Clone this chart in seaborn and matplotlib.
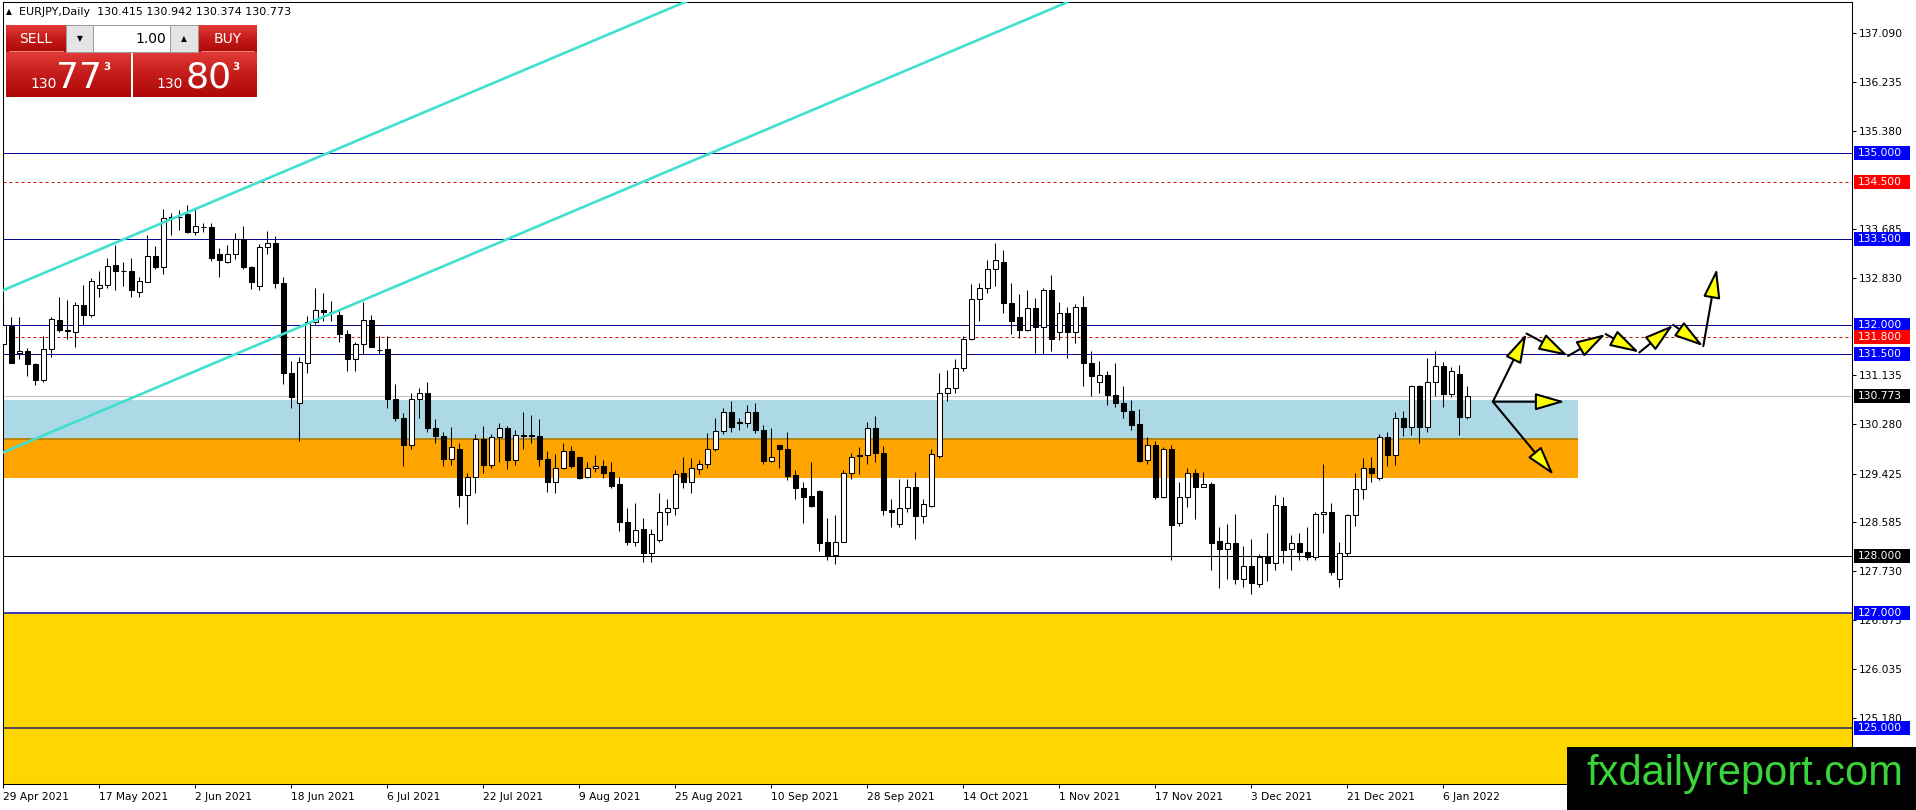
import numpy as np
import matplotlib
matplotlib.use('Agg')
import matplotlib.pyplot as plt
import matplotlib.transforms as mtransforms
from matplotlib.patches import Rectangle
from matplotlib.colors import LinearSegmentedColormap
import seaborn as sns

# ---------------- data (EURJPY daily) ----------------
opens = [
    131.68, 131.99, 131.52, 131.55, 131.33, 131.06, 131.59, 132.09, 131.92, 131.89,
    132.35, 132.19, 132.65, 132.70, 133.05, 132.95, 132.95, 132.59, 132.76, 133.21,
    133.02, 133.88, 133.88, 133.94, 133.63, 133.72, 133.71, 133.24, 133.11, 133.24,
    133.50, 133.01, 132.69, 133.36, 133.44, 132.73, 131.17, 130.66, 131.34, 132.06,
    132.27, 132.24, 132.18, 131.85, 131.41, 131.67, 132.09, 131.58, 131.59, 130.73,
    130.40, 129.92, 130.72, 130.83, 130.21, 130.08, 129.67, 129.86, 129.06, 129.36,
    130.02, 129.57, 130.06, 130.21, 129.66, 130.09, 130.09, 130.08, 129.67, 129.28,
    129.52, 129.81, 129.71, 129.36, 129.52, 129.56, 129.46, 129.24, 128.59, 128.24,
    128.46, 128.04, 128.27, 128.76, 128.82, 129.43, 129.28, 129.50, 129.59, 129.85,
    130.17, 130.49, 130.32, 130.31, 130.50, 130.19, 129.65, 129.92, 129.85, 129.40,
    129.17, 129.04, 129.12, 128.23, 128.01, 128.24, 129.43, 129.73, 129.75, 130.21,
    129.78, 128.80, 128.55, 128.82, 129.19, 128.68, 128.86, 129.73, 130.82, 130.91,
    131.26, 131.76, 132.46, 132.66, 132.99, 133.11, 132.39, 132.14, 131.93, 132.30,
    131.98, 132.62, 131.88, 132.22, 131.89, 132.32, 131.35, 131.01, 131.14, 130.79,
    130.66, 130.52, 130.29, 129.66, 129.92, 129.01, 129.86, 128.56, 129.01, 129.43,
    129.20, 129.24, 128.26, 128.11, 128.22, 127.59, 127.81, 127.51, 127.98, 127.87,
    128.86, 128.11, 128.22, 128.07, 127.98, 128.72, 128.76, 127.60, 128.05, 128.71,
    129.15, 129.52, 129.34, 130.06, 129.75, 130.40, 130.24, 130.95, 130.23, 131.01,
    131.30, 130.81, 131.16, 130.415]

highs = [
    132.33, 132.15, 132.14, 131.60, 131.35, 131.82, 132.15, 132.49, 132.44, 132.41,
    132.70, 132.82, 132.94, 133.17, 133.40, 133.11, 133.18, 132.85, 133.57, 133.38,
    134.02, 133.96, 134.00, 134.10, 134.04, 133.78, 133.78, 133.34, 133.40, 133.61,
    133.73, 133.04, 133.42, 133.65, 133.56, 132.84, 131.39, 131.45, 132.17, 132.66,
    132.56, 132.43, 132.28, 131.92, 131.72, 132.40, 132.18, 131.82, 131.82, 130.98,
    130.47, 130.82, 130.92, 131.02, 130.37, 130.14, 130.23, 129.96, 129.43, 130.12,
    130.25, 130.12, 130.31, 130.25, 130.18, 130.50, 130.44, 130.37, 129.81, 129.77,
    129.96, 129.90, 129.72, 129.63, 129.75, 129.66, 129.63, 129.37, 128.82, 128.91,
    128.65, 128.47, 129.08, 128.98, 129.48, 129.71, 129.69, 129.66, 130.13, 130.40,
    130.56, 130.69, 130.40, 130.62, 130.65, 130.27, 130.21, 129.92, 130.15, 129.49,
    129.28, 129.63, 129.14, 128.65, 128.71, 129.49, 129.79, 129.88, 130.33, 130.43,
    129.90, 128.99, 129.33, 129.33, 129.46, 128.98, 129.86, 131.17, 131.23, 131.41,
    131.82, 132.72, 132.73, 133.13, 133.43, 133.32, 132.74, 132.55, 132.61, 132.47,
    132.65, 132.88, 132.40, 132.32, 132.37, 132.51, 131.55, 131.39, 131.21, 131.35,
    130.95, 130.70, 130.54, 130.06, 130.00, 129.88, 129.92, 129.27, 129.53, 129.50,
    129.46, 129.27, 128.49, 128.55, 128.73, 128.17, 128.28, 128.03, 128.40, 129.05,
    129.01, 128.36, 128.40, 128.50, 128.75, 129.59, 128.91, 128.24, 128.72, 129.44,
    129.69, 129.71, 130.11, 130.15, 130.50, 130.52, 130.97, 130.96, 131.43, 131.56,
    131.37, 131.28, 131.31, 130.942]

lows = [
    131.66, 131.34, 131.41, 131.12, 130.97, 131.01, 131.46, 131.89, 131.76, 131.63,
    132.01, 132.14, 132.49, 132.65, 132.61, 132.68, 132.50, 132.49, 132.75, 132.98,
    132.90, 133.57, 133.66, 133.61, 133.57, 133.63, 133.12, 132.85, 133.09, 133.16,
    132.99, 132.63, 132.61, 133.24, 132.66, 130.99, 130.57, 130.00, 131.18, 132.03,
    132.08, 132.08, 131.72, 131.21, 131.21, 131.50, 131.62, 131.50, 130.56, 130.34,
    129.56, 129.86, 130.40, 130.15, 129.96, 129.55, 129.57, 128.84, 128.54, 129.09,
    129.43, 129.53, 129.63, 129.50, 129.57, 129.85, 129.96, 129.55, 129.11, 129.08,
    129.50, 129.53, 129.33, 129.34, 129.46, 129.34, 129.17, 128.43, 128.18, 128.17,
    127.88, 127.88, 128.24, 128.53, 128.71, 129.17, 129.09, 129.42, 129.53, 129.81,
    130.11, 130.14, 130.19, 130.24, 130.13, 129.60, 129.63, 129.53, 129.31, 128.99,
    128.56, 128.85, 128.08, 127.93, 127.86, 128.23, 129.33, 129.42, 129.60, 129.62,
    128.71, 128.50, 128.50, 128.76, 128.28, 128.57, 128.85, 129.70, 130.69, 130.83,
    131.20, 131.75, 132.08, 132.57, 132.68, 132.21, 131.86, 131.79, 131.91, 131.53,
    131.50, 131.56, 131.75, 131.43, 131.70, 130.95, 130.77, 130.82, 130.62, 130.59,
    130.39, 130.18, 129.62, 129.59, 128.98, 129.00, 127.92, 128.51, 128.85, 128.63,
    129.19, 127.74, 127.43, 127.59, 127.51, 127.45, 127.33, 127.45, 127.55, 127.75,
    127.87, 127.75, 127.93, 127.93, 127.92, 128.39, 127.66, 127.46, 127.99, 128.51,
    128.99, 129.27, 129.31, 129.55, 129.57, 130.07, 130.10, 129.96, 130.15, 130.77,
    130.59, 130.76, 130.10, 130.374]

closes = [
    132.01, 131.35, 131.55, 131.33, 131.06, 131.59, 132.11, 131.92, 131.91, 132.35,
    132.19, 132.77, 132.70, 133.03, 132.94, 132.94, 132.61, 132.77, 133.21, 133.02,
    133.86, 133.87, 133.89, 133.63, 133.73, 133.71, 133.18, 133.13, 133.24, 133.50,
    133.01, 132.76, 133.37, 133.44, 132.73, 131.17, 130.75, 131.36, 132.06, 132.27,
    132.23, 132.23, 131.85, 131.41, 131.67, 132.09, 131.63, 131.57, 130.72, 130.40,
    129.92, 130.72, 130.83, 130.21, 130.07, 129.67, 129.88, 129.06, 129.36, 130.02,
    129.57, 130.06, 130.21, 129.66, 130.10, 130.08, 130.08, 129.67, 129.27, 129.52,
    129.81, 129.56, 129.34, 129.52, 129.56, 129.44, 129.21, 128.59, 128.24, 128.44,
    128.04, 128.37, 128.76, 128.82, 129.41, 129.28, 129.52, 129.59, 129.85, 130.17,
    130.49, 130.23, 130.30, 130.50, 130.19, 129.65, 129.72, 129.85, 129.39, 129.17,
    129.02, 128.86, 128.22, 127.99, 128.24, 129.43, 129.72, 129.73, 130.21, 129.78,
    128.79, 128.75, 128.82, 129.19, 128.68, 128.90, 129.77, 130.82, 130.91, 131.26,
    131.76, 132.46, 132.66, 132.99, 133.13, 132.39, 132.08, 131.93, 132.30, 131.98,
    132.61, 131.76, 132.22, 131.89, 132.32, 131.35, 131.12, 131.14, 130.79, 130.66,
    130.52, 130.27, 129.65, 129.92, 129.02, 129.86, 128.53, 129.01, 129.43, 129.20,
    129.24, 128.22, 128.11, 128.22, 127.59, 127.82, 127.52, 127.98, 127.87, 128.88,
    128.10, 128.22, 128.07, 127.98, 128.72, 128.76, 127.72, 128.04, 128.71, 129.15,
    129.52, 129.43, 130.06, 129.75, 130.40, 130.24, 130.95, 130.23, 131.01, 131.30,
    130.81, 131.21, 130.41, 130.773]

date_labels = ['29 Apr 2021', '17 May 2021', '2 Jun 2021', '18 Jun 2021', '6 Jul 2021',
               '22 Jul 2021', '9 Aug 2021', '25 Aug 2021', '10 Sep 2021', '28 Sep 2021',
               '14 Oct 2021', '1 Nov 2021', '17 Nov 2021', '3 Dec 2021', '21 Dec 2021',
               '6 Jan 2022']
date_label_bars = [0, 12, 24, 36, 48, 60, 72, 84, 96, 108, 120, 132, 144, 156, 168, 180]

price_ticks = [137.090, 136.235, 135.380, 133.685, 132.830, 131.135, 130.280,
               129.425, 128.585, 127.730, 126.875, 126.035, 125.180]

level_prices = [135.0, 134.5, 133.5, 132.0, 131.8, 131.5, 130.773, 128.0, 127.0, 125.0]
level_kinds = ['blue', 'red', 'blue', 'blue', 'red', 'blue', 'current', 'black', 'blue_thick', 'dark']

zone_kinds = ['lightblue', 'orange', 'yellow']
zone_top = [130.70, 130.03, 127.0]
zone_bottom = [130.03, 129.35, 123.5]
zone_end_bar = [196.9, 196.9, 260.0]

channel_bars = [[-0.4, 86.0], [-0.4, 133.0]]
channel_prices = [[132.59, 137.67], [129.77, 137.62]]

fan_start = (186.2, 130.675)
fan_end_bars = [190.4, 195.2, 193.8]
fan_end_prices = [131.86, 130.675, 129.40]
zigzag_bars = [190.4, 195.6, 200.3, 204.5, 208.75, 212.5, 214.2]
zigzag_prices = [131.86, 131.47, 131.85, 131.53, 132.01, 131.64, 132.99]

header = 'EURJPY,Daily  130.415 130.942 130.374 130.773'

# ---------------- styles ----------------
level_style = {
    'blue': dict(color='#0a0a96', lw=1.0, ls='-', box='#0000ff'),
    'red': dict(color='#d01010', lw=1.0, ls=(0, (3, 3)), box='#ff0000'),
    'current': dict(color='#c0c0c0', lw=1.0, ls='-', box='#000000'),
    'black': dict(color='#000000', lw=1.0, ls='-', box='#000000'),
    'blue_thick': dict(color='#1010c8', lw=1.6, ls='-', box='#0000ff'),
    'dark': dict(color='#2a2a60', lw=1.6, ls='-', box='#0000ff'),
}
zone_color = {'lightblue': '#add8e6', 'orange': '#ffa500', 'yellow': '#ffd700'}

W_PX, H_PX = 1916, 810
AX_L, AX_R, AX_T, AX_B = 2.5, 1852, 2, 784
XLIM = (-0.1, 231.09)
YLIM = (124.028, 137.624)

sns.set_style('white')
plt.rcParams['font.family'] = ['DejaVu Sans']

fig = plt.figure(figsize=(W_PX / 100, H_PX / 100), dpi=100)
fig.patch.set_facecolor('white')
ax = fig.add_axes([AX_L / W_PX, 1 - AX_B / H_PX, (AX_R - AX_L) / W_PX, (AX_B - AX_T) / H_PX])

# zones
for kind, top, bot, end in zip(zone_kinds, zone_top, zone_bottom, zone_end_bar):
    ax.add_patch(Rectangle((-5, bot), end + 5, top - bot, facecolor=zone_color[kind],
                           edgecolor='none', zorder=0.5))
ax.hlines(zone_bottom[0], -5, zone_end_bar[0], color='#b8860b', lw=1.4, zorder=0.6)

# horizontal levels
for p, kind in zip(level_prices, level_kinds):
    st = level_style[kind]
    ax.axhline(p, color=st['color'], lw=st['lw'] * 0.72, ls=st['ls'], zorder=1)

# candles
o = np.array(opens); h = np.array(highs); l = np.array(lows); c = np.array(closes)
x = np.arange(len(o))
ax.vlines(x, l, h, color='black', lw=0.75, zorder=3)
bottoms = np.minimum(o, c)
heights = np.maximum(np.abs(c - o), 0.01)
body_colors = np.where(c >= o, 'white', 'black')
ax.bar(x, heights, width=0.6, bottom=bottoms, color=body_colors, edgecolor='black',
       linewidth=0.75, zorder=4)

# channel lines
for bx, py in zip(channel_bars, channel_prices):
    sns.lineplot(x=bx, y=py, ax=ax, color='#40e0d0', lw=1.9, estimator=None,
                 sort=False, legend=False, zorder=5)

# forecast arrows
arrow_kw = dict(arrowstyle='-|>,head_length=1.3,head_width=0.38', mutation_scale=14,
                facecolor='#ffff00', edgecolor='black', lw=1.5, shrinkA=0, shrinkB=0)
for bx, py in zip(fan_end_bars, fan_end_prices):
    ax.annotate('', xy=(bx, py), xytext=fan_start, arrowprops=arrow_kw, zorder=6,
                annotation_clip=False)
for i in range(len(zigzag_bars) - 1):
    ax.annotate('', xy=(zigzag_bars[i + 1], zigzag_prices[i + 1]),
                xytext=(zigzag_bars[i], zigzag_prices[i]), arrowprops=arrow_kw,
                zorder=6, annotation_clip=False)

ax.set_xlim(*XLIM)
ax.set_ylim(*YLIM)
ax.set_xlabel('')
ax.set_ylabel('')

# axes / ticks
ax.yaxis.tick_right()
ax.set_yticks(price_ticks)
ax.set_yticklabels([f'{v:.3f}' for v in price_ticks])
ax.tick_params(axis='y', direction='out', length=3, width=0.75, pad=2, labelsize=7.7,
               colors='black', right=True, left=False)
ax.set_xticks(date_label_bars)
ax.set_xticklabels(date_labels)
ax.tick_params(axis='x', direction='out', length=3, width=0.75, pad=3, labelsize=7.7,
               colors='black', bottom=True)
for lab in ax.get_xticklabels():
    lab.set_ha('left')
for sp in ax.spines.values():
    sp.set_visible(True)
    sp.set_color('black')
    sp.set_linewidth(0.75)

# price label boxes on the right axis
ax_w = AX_R - AX_L
ax_h = AX_B - AX_T
px_per_unit = ax_h / (YLIM[1] - YLIM[0])
trans = mtransforms.blended_transform_factory(ax.transAxes, ax.transData)
box_x = 1 + 2 / ax_w
box_w = 56 / ax_w
box_h = 14 / px_per_unit
for p, kind in zip(level_prices, level_kinds):
    st = level_style[kind]
    ax.add_patch(Rectangle((box_x, p - box_h / 2), box_w, box_h, transform=trans,
                           facecolor=st['box'], edgecolor='none', clip_on=False, zorder=10))
    ax.text(box_x + 4 / ax_w, p, f'{p:.3f}', transform=trans, color='white',
            fontsize=7.7, va='center', ha='left', clip_on=False, zorder=11)

# ---------------- overlay: header, trade panel, watermark ----------------
ov = fig.add_axes([0, 0, 1, 1])
ov.set_zorder(20)
ov.axis('off')

red_cmap = LinearSegmentedColormap.from_list('red_btn', ['#e23a36', '#c41c1a', '#ad0808'])
grad = np.linspace(0, 1, 64).reshape(-1, 1)


def red_box(x0, y0, w, h):
    ov.imshow(grad, cmap=red_cmap, extent=(x0, x0 + w, y0 + h, y0), aspect='auto',
              interpolation='bilinear', zorder=1)


ov.text(6, 12, '▲', fontsize=5.5, va='center', ha='left', color='black')
ov.text(19, 12, header, fontsize=8, va='center', ha='left', color='black')

red_box(6, 25, 60, 27)
red_box(198, 25, 59, 27)
red_box(6, 52, 125, 45)
red_box(133, 52, 124, 45)
ov.add_patch(Rectangle((66, 25), 27, 27, facecolor='#e4e4e4', edgecolor='#9a9a9a', lw=0.7, zorder=2))
ov.add_patch(Rectangle((93, 25), 77, 27, facecolor='white', edgecolor='#9a9a9a', lw=0.7, zorder=2))
ov.add_patch(Rectangle((170, 25), 28, 27, facecolor='#e4e4e4', edgecolor='#9a9a9a', lw=0.7, zorder=2))
ov.plot([9, 63], [51, 51], color='#f29a9a', lw=0.6, zorder=3)
ov.plot([201, 254], [51, 51], color='#f29a9a', lw=0.6, zorder=3)

ov.text(36, 39, 'SELL', fontsize=10, color='white', ha='center', va='center', zorder=4)
ov.text(228, 39, 'BUY', fontsize=10, color='white', ha='center', va='center', zorder=4)
ov.text(80, 39, '▼', fontsize=5.5, color='black', ha='center', va='center', zorder=4)
ov.text(184, 39, '▲', fontsize=5.5, color='black', ha='center', va='center', zorder=4)
ov.text(166, 39, '1.00', fontsize=10, color='black', ha='right', va='center', zorder=4)

ov.text(30, 88, '130', fontsize=10, color='white', ha='left', va='baseline', zorder=4)
ov.text(56, 88, '77', fontsize=26, color='white', ha='left', va='baseline', zorder=4)
ov.text(103, 70, '3', fontsize=7.5, color='white', ha='left', va='baseline',
        fontweight='bold', zorder=4)
ov.text(156, 88, '130', fontsize=10, color='white', ha='left', va='baseline', zorder=4)
ov.text(186, 88, '80', fontsize=26, color='white', ha='left', va='baseline', zorder=4)
ov.text(232, 70, '3', fontsize=7.5, color='white', ha='left', va='baseline',
        fontweight='bold', zorder=4)

ov.add_patch(Rectangle((1567, 747), W_PX - 1567, H_PX - 747, facecolor='black',
                       edgecolor='none', zorder=5))
ov.text(1745, 785, 'fxdailyreport.com', fontsize=30, color='#3ad43a', ha='center',
        va='baseline', family=['Liberation Sans', 'DejaVu Sans'], zorder=6)

ov.set_xlim(0, W_PX)
ov.set_ylim(H_PX, 0)

fig.savefig('out.png', dpi=100)
